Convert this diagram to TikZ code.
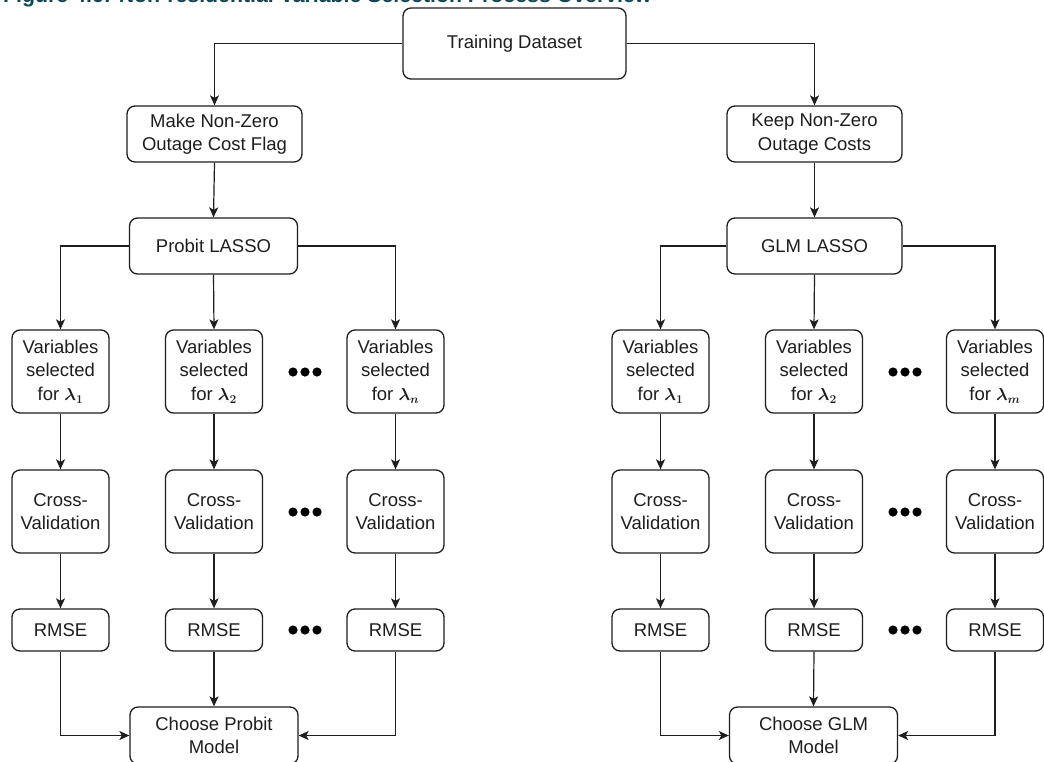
\documentclass[tikz,border=0pt]{standalone}
\usepackage{fontspec}
\usepackage{amsmath}
\setmainfont{Liberation Sans}
\usetikzlibrary{arrows.meta}
\definecolor{titlecol}{RGB}{12,72,88}
\definecolor{ink}{RGB}{30,30,30}
\begin{document}
\begin{tikzpicture}[x=1pt,y=-1pt,
  box/.style={draw=ink, line width=1.3pt, rounded corners=8pt, align=center, inner sep=0pt,
    text=ink, font=\fontsize{18.5}{23.5}\selectfont},
  wide/.style={minimum width=175pt, minimum height=56pt},
  varbox/.style={minimum width=97pt, minimum height=83pt},
  smallbox/.style={minimum width=97pt, minimum height=42pt},
  arr/.style={draw=ink, line width=1.2pt, -{Stealth[length=10pt,width=9pt,inset=2.5pt]}},
  dotc/.style={fill=black}]
\useasboundingbox (0,0) rectangle (1044,761);
\clip (0,0) rectangle (1044,761);
\fill[white] (0,0) rectangle (1044,761);
% title (cut off at the top)
\node[anchor=base west, inner sep=0pt, text=titlecol, font=\bfseries\fontsize{21.3}{24}\selectfont] (title) at (3,2.5)
  {Figure 4.6: Non-residential Variable Selection Process Overview};
% top
\node[box, minimum width=223pt, minimum height=71pt] (train) at (514.5,43.5) {Training Dataset};
\node[box, wide] (make) at (214.5,134) {Make Non-Zero\\Outage Cost Flag};
\node[box, wide] (keep) at (814.5,134) {Keep Non-Zero\\Outage Costs};
\node[box, minimum width=168pt, minimum height=56pt] (probit) at (213.5,246) {Probit LASSO};
\node[box, wide] (glm) at (814.5,246) {GLM LASSO};
% left branch
\node[box, varbox] (lv1) at (60.5,371.5) {Variables\\selected\\for $\boldsymbol{\lambda_1}$};
\node[box, varbox] (lv2) at (214,371.5) {Variables\\selected\\for $\boldsymbol{\lambda_2}$};
\node[box, varbox] (lv3) at (395.5,371.5) {Variables\\selected\\for $\boldsymbol{\lambda_n}$};
\node[box, varbox] (lc1) at (60.5,511.5) {Cross-\\Validation};
\node[box, varbox] (lc2) at (214,511.5) {Cross-\\Validation};
\node[box, varbox] (lc3) at (395.5,511.5) {Cross-\\Validation};
\node[box, smallbox] (lr1) at (60.5,630) {RMSE};
\node[box, smallbox] (lr2) at (214,630) {RMSE};
\node[box, smallbox] (lr3) at (395.5,630) {RMSE};
\node[box, minimum width=168pt, minimum height=57pt] (lch) at (214,735.5) {Choose Probit\\Model};
% right branch
\node[box, varbox] (rv1) at (660.5,371.5) {Variables\\selected\\for $\boldsymbol{\lambda_1}$};
\node[box, varbox] (rv2) at (814,371.5) {Variables\\selected\\for $\boldsymbol{\lambda_2}$};
\node[box, varbox] (rv3) at (995,371.5) {Variables\\selected\\for $\boldsymbol{\lambda_m}$};
\node[box, varbox] (rc1) at (660.5,511.5) {Cross-\\Validation};
\node[box, varbox] (rc2) at (814,511.5) {Cross-\\Validation};
\node[box, varbox] (rc3) at (995,511.5) {Cross-\\Validation};
\node[box, smallbox] (rr1) at (660.5,630) {RMSE};
\node[box, smallbox] (rr2) at (814,630) {RMSE};
\node[box, smallbox] (rr3) at (995,630) {RMSE};
\node[box, minimum width=168pt, minimum height=57pt] (rch) at (813.5,735.5) {Choose GLM\\Model};
% ellipsis dots
\foreach \cx in {305,905}{
  \foreach \cy in {372,512,630}{
    \foreach \dx in {-12,0,12}{
      \fill[dotc] (\cx+\dx,\cy) circle (4.6pt);
    }
  }
}
% connectors
\draw[arr] (train.west) -| (make.north);
\draw[arr] (train.east) -| (keep.north);
\draw[arr] (make.south) -- (probit.north);
\draw[arr] (keep.south) -- (glm.north);
\draw[arr] (probit.west) -| (lv1.north);
\draw[arr] (probit.south) -- (lv2.north);
\draw[arr] (probit.east) -| (lv3.north);
\draw[arr] (glm.west) -| (rv1.north);
\draw[arr] (glm.south) -- (rv2.north);
\draw[arr] (glm.east) -| (rv3.north);
\foreach \s in {l,r}{
  \foreach \i in {1,2,3}{
    \draw[arr] (\s v\i.south) -- (\s c\i.north);
    \draw[arr] (\s c\i.south) -- (\s r\i.north);
  }
}
\draw[arr] (lr1.south) |- (lch.west);
\draw[arr] (lr2.south) -- (lch.north);
\draw[arr] (lr3.south) |- (lch.east);
\draw[arr] (rr1.south) |- (rch.west);
\draw[arr] (rr2.south) -- (rch.north);
\draw[arr] (rr3.south) |- (rch.east);
\end{tikzpicture}
\end{document}
